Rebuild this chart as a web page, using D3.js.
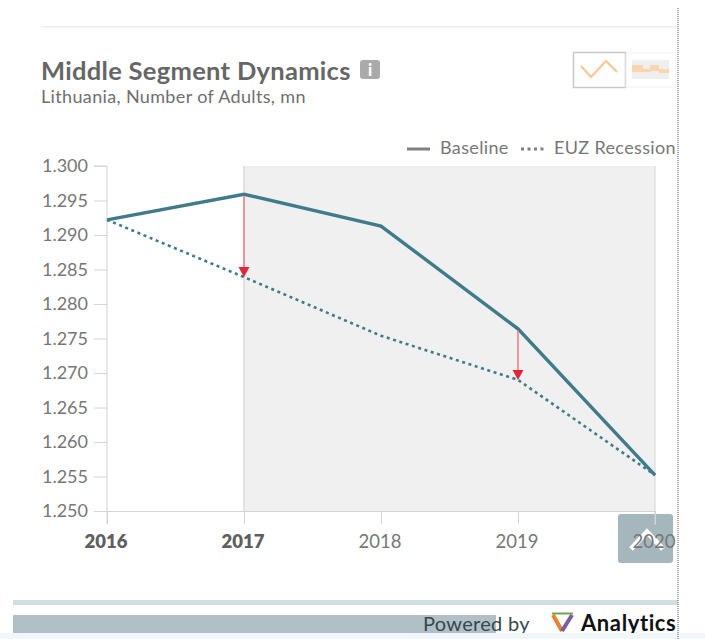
<!DOCTYPE html>
<html><head><meta charset="utf-8">
<script src="https://cdn.jsdelivr.net/npm/d3@7/dist/d3.min.js"></script>
<style>html,body{margin:0;padding:0;background:#fff}svg{display:block}text{font-family:Lato,"Open Sans",sans-serif}</style>
</head><body><div id="c"></div>
<script>
const years=[2016,2017,2018,2019,2020];
const boldYears=[2016,2017];
const baseline=[1.2922,1.2959,1.2913,1.2764,1.2552];
const recession=[1.2922,1.2839,1.2754,1.2690,1.2552];
const yTicks=[1.25,1.255,1.26,1.265,1.27,1.275,1.28,1.285,1.29,1.295,1.3];
const arrowYears=[2017,2019];
const titleText="Middle Segment Dynamics";
const subtitleText="Lithuania, Number of Adults, mn";
const legendNames=["Baseline","EUZ Recession"];

const svg=d3.select("#c").append("svg").attr("width",705).attr("height",639);
const x=d3.scaleLinear().domain([2016,2020]).range([107,655]);
const y=d3.scaleLinear().domain([1.25,1.3]).range([511,166]);
const teal="#3f7b8b",axisC="#d4d4d4";

// page furniture
svg.append("rect").attr("x",41).attr("y",26).attr("width",637).attr("height",1.5).attr("fill","#efefef");
svg.append("rect").attr("x",13).attr("y",600).attr("width",665).attr("height",5).attr("fill","#d0dfe2");
svg.append("rect").attr("x",13).attr("y",615).attr("width",483).attr("height",18).attr("fill","#b0c0c6");

// heading
svg.append("text").attr("x",41).attr("y",80).attr("font-size",25.5).attr("font-weight",700).attr("letter-spacing",0.3).attr("fill","#666").text(titleText);
svg.append("text").attr("x",41).attr("y",103).attr("font-size",18).attr("letter-spacing",0.35).attr("fill","#6f6f6f").text(subtitleText);
svg.append("rect").attr("x",360).attr("y",60).attr("width",20).attr("height",19).attr("rx",3).attr("fill","#aaa");
svg.append("text").attr("x",370).attr("y",76).attr("text-anchor","middle").attr("font-size",16).attr("font-weight",900).attr("fill","#fff").text("i");

// chart-type switch
svg.append("rect").attr("x",573.5).attr("y",52.5).attr("width",52).attr("height",35).attr("fill","#fff").attr("stroke","#c8c8c8").attr("stroke-width",1.5);
svg.append("rect").attr("x",626).attr("y",53).attr("width",50).attr("height",34).attr("fill","#fff").attr("stroke","#f0f0f0");
svg.append("polyline").attr("points","581,66 591,77 606,61 617,72").attr("fill","none").attr("stroke","#fcc48f").attr("stroke-width",2);
svg.append("rect").attr("x",632).attr("y",60).attr("width",37).attr("height",19).attr("fill","#efefef");
svg.append("path").attr("d","M632,65h11v7h-11zM643,69h8v3h-8zM650,65h9v6h-9zM659,69h10v4h-10z").attr("fill","#fcd5ae");

// plot band
svg.append("rect").attr("x",x(2017)).attr("y",y(1.3)).attr("width",x(2020)-x(2017)).attr("height",y(1.25)-y(1.3)).attr("fill","#f0f0f0");
svg.append("line").attr("x1",x(2017)).attr("x2",x(2017)).attr("y1",y(1.3)).attr("y2",y(1.25)).attr("stroke","#e2e2e2").attr("stroke-width",2);

// back-to-top button (beneath the axis labels)
svg.append("rect").attr("x",618).attr("y",514).attr("width",55).attr("height",49).attr("rx",3).attr("fill","#a6b6bd");
svg.append("polyline").attr("points","631,549 647,532 663,549").attr("fill","none").attr("stroke","#fff").attr("stroke-width",5);
svg.append("line").attr("x1",x(2020)).attr("x2",x(2020)).attr("y1",y(1.3)).attr("y2",y(1.25)+14).attr("stroke",axisC);

// axes
const yAxis=d3.axisLeft(y).tickValues(yTicks).tickFormat(d3.format(".3f")).tickSize(13).tickPadding(6);
const gy=svg.append("g").attr("transform",`translate(${x(2016)},0)`).call(yAxis);
gy.select(".domain").attr("stroke",axisC).attr("d",`M-13,${y(1.3)}H0V${y(1.25)}`);
gy.selectAll("line").attr("stroke",axisC);
gy.selectAll("text").attr("font-size",18).attr("fill","#777").style("font-family","Lato");
const xAxis=d3.axisBottom(x).tickValues(years).tickFormat(d3.format("d")).tickSize(13).tickPadding(11);
const gx=svg.append("g").attr("transform",`translate(0,${y(1.25)})`).call(xAxis);
gx.select(".domain").attr("stroke",axisC);
gx.selectAll("line").attr("stroke",axisC);
gx.selectAll("text").attr("font-size",18.5).attr("dx",-1.5).attr("fill",d=>boldYears.includes(d)?"#5f5f5f":"#777")
  .attr("font-weight",d=>boldYears.includes(d)?800:400).style("font-family","Lato");
svg.append("line").attr("x1",x(2016)).attr("x2",x(2016)).attr("y1",y(1.25)).attr("y2",y(1.25)+13).attr("stroke",axisC);

// lines
const line=d3.line().x((d,i)=>x(years[i])).y(d=>y(d));
svg.append("path").attr("d",line(recession)).attr("fill","none").attr("stroke",teal).attr("stroke-width",2.6).attr("stroke-dasharray","3 3.6");
svg.append("path").attr("d",line(baseline)).attr("fill","none").attr("stroke",teal).attr("stroke-width",3.4);

// arrows
arrowYears.forEach(yr=>{
  const i=years.indexOf(yr),ax=x(yr),y0=y(baseline[i]),y1=y(recession[i]);
  svg.append("line").attr("x1",ax).attr("x2",ax).attr("y1",y0+2).attr("y2",y1-8).attr("stroke","#f08a94").attr("stroke-width",1.8);
  svg.append("path").attr("d",`M${ax-5.5},${y1-10}H${ax+5.5}L${ax},${y1}Z`).attr("fill","#e32636");
});

// legend
svg.append("line").attr("x1",407).attr("x2",430).attr("y1",149).attr("y2",149).attr("stroke","#808080").attr("stroke-width",3);
svg.append("text").attr("x",440).attr("y",154).attr("font-size",18).attr("letter-spacing",0.35).attr("fill","#777").text(legendNames[0]);
svg.append("line").attr("x1",521).attr("x2",545).attr("y1",149).attr("y2",149).attr("stroke","#808080").attr("stroke-width",3).attr("stroke-dasharray","3 3.5");
svg.append("text").attr("x",554).attr("y",154).attr("font-size",18).attr("letter-spacing",0.35).attr("fill","#777").text(legendNames[1]);

// footer
svg.append("text").attr("x",423).attr("y",631).attr("font-size",20).attr("letter-spacing",0.3).attr("fill","#37474f").text("Powered by");
const lg=svg.append("g");
lg.append("path").attr("d","M553,615L562,631").attr("stroke","#e8832a").attr("stroke-width",4);
lg.append("path").attr("d","M572,615L562,631").attr("stroke","#7b5ba6").attr("stroke-width",4);
lg.append("path").attr("d","M552,613.5H573").attr("stroke","#6aa84f").attr("stroke-width",2);
svg.append("text").attr("x",581).attr("y",631).attr("font-size",22).attr("font-weight",700).attr("letter-spacing",0.6).attr("fill","#111").text("Analytics");
svg.append("rect").attr("x",0).attr("y",633).attr("width",705).attr("height",6).attr("fill","#f1f6f9");
svg.append("line").attr("x1",678).attr("x2",678).attr("y1",8).attr("y2",639).attr("stroke","#555").attr("stroke-dasharray","1 1");
</script></body></html>
